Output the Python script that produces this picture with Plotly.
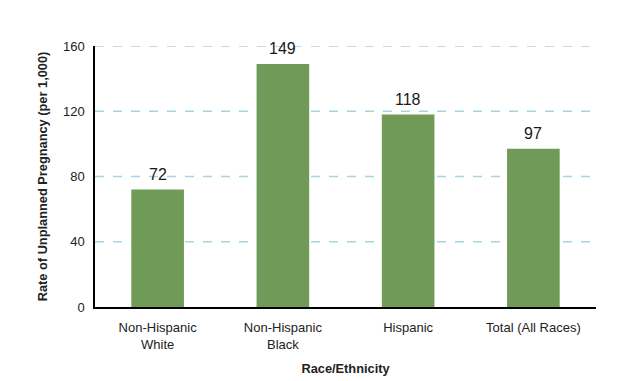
import plotly.graph_objects as go

categories = ["Non-Hispanic<br>White", "Non-Hispanic<br>Black", "Hispanic", "Total (All Races)"]
values = [72, 149, 118, 97]
y_ticks = [0, 40, 80, 120, 160]

fig = go.Figure()
fig.add_trace(go.Bar(
    x=categories, y=values,
    marker=dict(color="#6f9a57", line=dict(width=0)),
    width=0.42,
    cliponaxis=False,
))

for c, v in zip(categories, values):
    fig.add_annotation(x=c, y=v, text=str(v), showarrow=False, yanchor="bottom", yshift=5,
                       font=dict(family="Liberation Sans, Arial", size=16, color="#1a1a1a"))

for t in y_ticks[1:]:
    fig.add_shape(type="line", xref="paper", yref="y", x0=0, x1=1, y0=t, y1=t,
                  line=dict(color="#a9d2e3", width=1.5, dash="dash"), layer="below")

fig.update_layout(
    width=619, height=373,
    margin=dict(l=87, r=31, t=38, b=74),
    paper_bgcolor="white", plot_bgcolor="white",
    showlegend=False,
    font=dict(family="Liberation Sans, Arial", color="#222222"),
)
fig.update_xaxes(
    range=[-0.5, 3.5],
    showline=True, linecolor="black", linewidth=2,
    showgrid=False, ticks="",
    tickfont=dict(size=13, color="#222222"),
    ticklabelstandoff=7,
    automargin=False,
    title=dict(text="<b>Race/Ethnicity</b>", font=dict(size=12.8, color="#222222"), standoff=14),
)
fig.update_yaxes(
    range=[0, 160],
    tickvals=y_ticks,
    showline=True, linecolor="black", linewidth=1.5,
    showgrid=False, ticks="", zeroline=False,
    tickfont=dict(size=13, color="#222222"),
    ticklabelstandoff=6,
    title=dict(text="<b>Rate of Unplanned Pregnancy (per 1,000)</b>", font=dict(size=12.8, color="#222222"), standoff=12),
)

fig.write_html("out.html")
